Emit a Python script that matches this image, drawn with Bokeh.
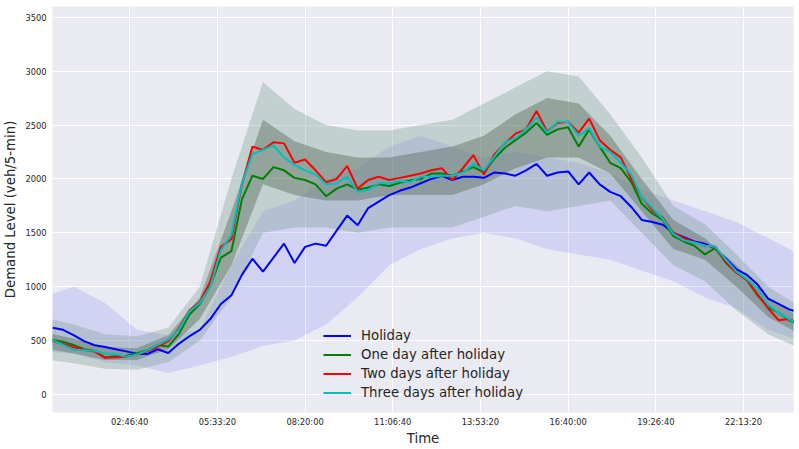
import numpy as np
from bokeh.plotting import figure
from bokeh.models import Range1d, FixedTicker
from bokeh.embed import file_html
from bokeh.resources import INLINE

# ---- data (seconds since midnight) ----
time_20min = np.arange(1200, 86401, 1200)          # 72 samples, every 20 min
time_hourly = np.arange(0, 86401, 3600)            # 25 samples for spread bands

holiday = [620, 600, 550, 495, 457, 440, 420, 400, 378, 375,
           420, 385, 470, 540, 600, 700, 840, 920, 1110, 1260,
           1140, 1270, 1400, 1220, 1370, 1400, 1380, 1520, 1660, 1570,
           1730, 1790, 1850, 1890, 1920, 1960, 2000, 2030, 1990, 2020,
           2020, 2010, 2060, 2050, 2030, 2080, 2140, 2030, 2060, 2070,
           1950, 2060, 1950, 1880, 1840, 1740, 1620, 1600, 1575, 1500,
           1460, 1420, 1400, 1350, 1260, 1160, 1110, 1020, 890, 840,
           790, 760]
one_day_after = [505, 490, 460, 420, 405, 345, 355, 360, 380, 410,
                 460, 445, 560, 740, 840, 1010, 1270, 1330, 1810, 2030,
                 2000, 2110, 2080, 2010, 1990, 1950, 1840, 1910, 1950, 1900,
                 1920, 1950, 1935, 1965, 1985, 2000, 2050, 2050, 2030, 2070,
                 2110, 2060, 2190, 2290, 2360, 2430, 2520, 2410, 2460, 2480,
                 2300, 2460, 2300, 2150, 2100, 1970, 1770, 1680, 1620, 1470,
                 1420, 1380, 1300, 1360, 1220, 1130, 1060, 920, 810, 760,
                 690, 640]
two_days_after = [495, 470, 440, 415, 400, 340, 345, 350, 370, 400,
                  445, 495, 610, 780, 860, 1050, 1370, 1440, 1950, 2300,
                  2270, 2340, 2330, 2150, 2180, 2080, 1970, 2000, 2120, 1910,
                  1990, 2020, 1990, 2010, 2030, 2050, 2080, 2100, 1990, 2100,
                  2220, 2040, 2230, 2330, 2420, 2460, 2630, 2440, 2520, 2530,
                  2430, 2560, 2360, 2270, 2200, 2000, 1830, 1710, 1640, 1500,
                  1450, 1410, 1380, 1370, 1230, 1130, 1060, 930, 800, 690,
                  700, 660]
three_days_after = [505, 460, 415, 410, 405, 380, 375, 350, 370, 410,
                    460, 510, 600, 770, 850, 1000, 1340, 1480, 1960, 2230,
                    2270, 2310, 2200, 2130, 2080, 2040, 1950, 1960, 2020, 1880,
                    1900, 1960, 1960, 1980, 1970, 2020, 2020, 2030, 2030, 2060,
                    2140, 2080, 2210, 2340, 2380, 2460, 2570, 2430, 2530, 2530,
                    2400, 2470, 2300, 2250, 2150, 2040, 1830, 1730, 1630, 1490,
                    1430, 1410, 1380, 1370, 1250, 1140, 1070, 980, 830, 760,
                    700, 640]

# spread of the individual (faint) days
holiday_hi = [900, 1000, 850, 600, 550, 600, 1200, 1700, 1800, 2000, 2100, 2300, 2400,
              2300, 2200, 2250, 2200, 2150, 2050, 1900, 1800, 1700, 1600, 1450, 1300]
holiday_lo = [400, 380, 300, 270, 200, 270, 350, 450, 500, 650, 900, 1200, 1350,
              1450, 1500, 1450, 1350, 1300, 1250, 1150, 1050, 900, 800, 600, 500]
after_outer_hi = [720, 650, 560, 540, 620, 1000, 2000, 2900, 2650, 2500, 2450, 2450, 2500,
                  2550, 2700, 2850, 3000, 2950, 2600, 2200, 1750, 1580, 1300, 1000, 820]
after_core_hi = [580, 520, 440, 430, 550, 900, 1700, 2550, 2350, 2250, 2200, 2200, 2250,
                 2300, 2400, 2600, 2750, 2700, 2400, 2000, 1620, 1450, 1200, 900, 720]
after_core_lo = [430, 380, 320, 320, 420, 700, 1200, 1950, 1850, 1800, 1800, 1850, 1850,
                 1850, 1950, 2100, 2200, 2200, 2050, 1700, 1350, 1250, 1000, 720, 560]
after_outer_lo = [330, 290, 240, 230, 300, 500, 900, 1500, 1550, 1550, 1500, 1550, 1550,
                  1550, 1650, 1750, 1700, 1750, 1800, 1500, 1200, 1050, 780, 560, 430]

tick_values = [10000, 20000, 30000, 40000, 50000, 60000, 70000, 80000]
tick_labels = ["02:46:40", "05:33:20", "08:20:00", "11:06:40",
               "13:53:20", "16:40:00", "19:26:40", "22:13:20"]
y_ticks = [0, 500, 1000, 1500, 2000, 2500, 3000, 3500]

FONT = "DejaVu Sans"
TXT = "#262626"

p = figure(width=799, height=449, output_backend="svg", toolbar_location=None,
           x_range=Range1d(1200, 85700), y_range=Range1d(-167, 3600),
           min_border_left=49, min_border_right=6, min_border_top=6,
           min_border_bottom=37, background_fill_color="#EAEAF2",
           border_fill_color="white", outline_line_color=None)

# spread bands
p.varea(x=time_hourly, y1=holiday_lo, y2=holiday_hi, fill_color="#0000ff", fill_alpha=0.1)
p.varea(x=time_hourly, y1=after_outer_lo, y2=after_outer_hi, fill_color="#6f9a8c", fill_alpha=0.33)
p.varea(x=time_hourly, y1=after_core_lo, y2=after_core_hi, fill_color="#5b6f5f", fill_alpha=0.45)

# main series
p.line(time_20min, holiday, line_color="#0000ff", line_width=2, legend_label="Holiday")
p.line(time_20min, one_day_after, line_color="#008000", line_width=2, legend_label="One day after holiday")
p.line(time_20min, two_days_after, line_color="#ff0000", line_width=2, legend_label="Two days after holiday")
p.line(time_20min, three_days_after, line_color="#00bfbf", line_width=2, legend_label="Three days after holiday")

# axes
p.xaxis.ticker = FixedTicker(ticks=tick_values)
p.xaxis.major_label_overrides = {v: l for v, l in zip(tick_values, tick_labels)}
p.yaxis.ticker = FixedTicker(ticks=y_ticks)
p.xaxis.axis_label = "Time"
p.yaxis.axis_label = "Demand Level (veh/5-min)"
for ax in (p.xaxis, p.yaxis):
    ax.axis_line_color = None
    ax.major_tick_line_color = None
    ax.minor_tick_line_color = None
    ax.major_tick_in = 0
    ax.major_tick_out = 0
    ax.major_label_text_font = FONT
    ax.major_label_text_font_size = "8.3px"
    ax.major_label_text_color = TXT
    ax.axis_label_text_font = FONT
    ax.axis_label_text_font_size = "13.3px"
    ax.axis_label_text_font_style = "normal"
    ax.axis_label_text_color = TXT
p.xaxis.major_label_standoff = 4
p.xaxis.axis_label_standoff = 1
p.yaxis.major_label_standoff = 6
p.yaxis.axis_label_standoff = 4

p.grid.grid_line_color = "white"
p.grid.grid_line_width = 1

lg = p.legend[0]
lg.location = (271, 10)
lg.background_fill_alpha = 0
lg.border_line_alpha = 0
lg.padding = 0
lg.margin = 0
lg.spacing = 0
lg.glyph_width = 28
lg.glyph_height = 19
lg.label_height = 19
lg.label_standoff = 10
lg.label_text_font = FONT
lg.label_text_font_size = "13.3px"
lg.label_text_color = TXT

open("out.html", "w").write(file_html(p, INLINE))
